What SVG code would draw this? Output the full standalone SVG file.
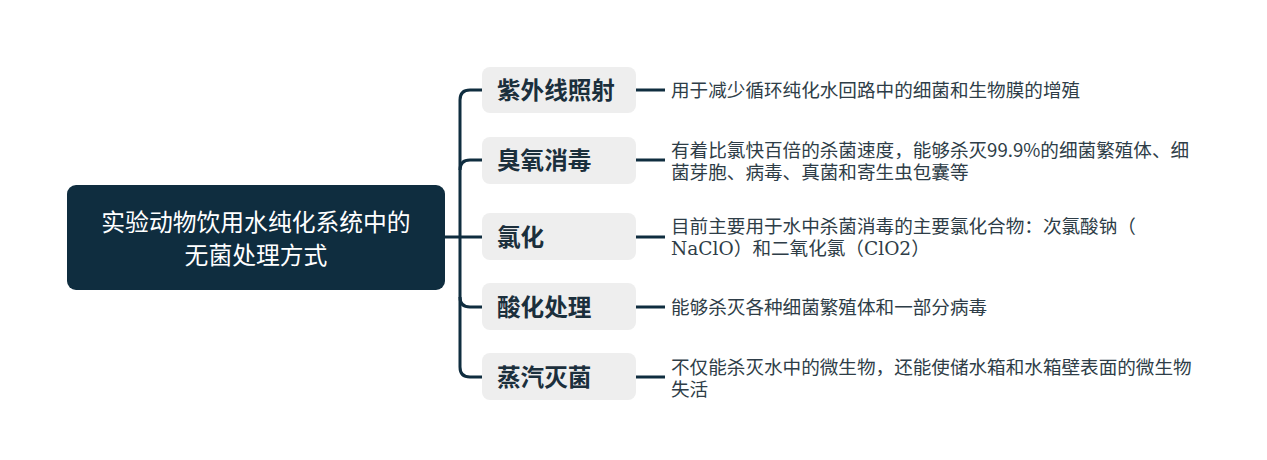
<svg xmlns="http://www.w3.org/2000/svg" width="1267" height="460" viewBox="0 0 1267 460">
<style>
.bg{fill:#ffffff}
.root{fill:#0f2d3f}
.roott{fill:#ffffff;font-family:"Noto Sans CJK SC","Noto Sans",sans-serif;font-size:23.8px;text-anchor:middle}
.br{fill:#eeeeee}
.brt{fill:#1b2f3c;font-family:"Noto Sans CJK SC","Noto Sans",sans-serif;font-size:23.6px;font-weight:bold}
.desc{fill:#2e3d47;font-family:"Noto Sans CJK SC","Noto Sans",sans-serif;font-size:18.6px}
.ser{font-family:"DejaVu Serif","Liberation Serif",serif}
.ln{fill:none;stroke:#0f2d3f;stroke-width:3;stroke-linecap:butt}
</style>
<rect class="bg" x="0" y="0" width="1267" height="460"/>
<g id="connectors">
<path class="ln" d="M445 237 H460"/>
<path class="ln" d="M482 90 H470 Q460 90 460 100 V367 Q460 377 470 377 H482"/>
<path class="ln" d="M460 170 Q460 160 470 160 H482"/>
<path class="ln" d="M460 237 H482"/>
<path class="ln" d="M460 297 Q460 307 470 307 H482"/>
<path class="ln" d="M636 90 H665"/>
<path class="ln" d="M636 160 H665"/>
<path class="ln" d="M636 237 H665"/>
<path class="ln" d="M636 307 H665"/>
<path class="ln" d="M636 377 H665"/>
</g>
<g id="root">
<rect class="root" x="67" y="185" width="378" height="105" rx="9"/>
<text class="roott" x="256" y="231">实验动物饮用水纯化系统中的</text>
<text class="roott" x="256" y="264">无菌处理方式</text>
</g>
<g id="n1">
<rect class="br" x="482" y="67" width="154" height="46" rx="8"/>
<text class="brt" x="497" y="99">紫外线照射</text>
</g>
<g id="n2">
<rect class="br" x="482" y="137" width="154" height="47" rx="8"/>
<text class="brt" x="497" y="169">臭氧消毒</text>
</g>
<g id="n3">
<rect class="br" x="482" y="213" width="154" height="47" rx="8"/>
<text class="brt" x="497" y="246">氯化</text>
</g>
<g id="n4">
<rect class="br" x="482" y="283" width="154" height="47" rx="8"/>
<text class="brt" x="497" y="316">酸化处理</text>
</g>
<g id="n5">
<rect class="br" x="482" y="353" width="154" height="47" rx="8"/>
<text class="brt" x="497" y="386">蒸汽灭菌</text>
</g>
<g id="d1">
<text class="desc" x="671" y="97">用于减少循环纯化水回路中的细菌和生物膜的增殖</text>
</g>
<g id="d2">
<text class="desc" x="671" y="157">有着比氯快百倍的杀菌速度，能够杀灭99.9%的细菌繁殖体、细</text>
<text class="desc" x="671" y="179">菌芽胞、病毒、真菌和寄生虫包囊等</text>
</g>
<g id="d3">
<text class="desc" x="671" y="233">目前主要用于水中杀菌消毒的主要氯化合物：次氯酸钠（</text>
<text class="desc" x="671" y="255"><tspan class="ser">NaClO</tspan>）和二氧化氯（<tspan class="ser">ClO2</tspan>）</text>
</g>
<g id="d4">
<text class="desc" x="671" y="314">能够杀灭各种细菌繁殖体和一部分病毒</text>
</g>
<g id="d5">
<text class="desc" x="671" y="374">不仅能杀灭水中的微生物，还能使储水箱和水箱壁表面的微生物</text>
<text class="desc" x="671" y="396">失活</text>
</g>
</svg>
